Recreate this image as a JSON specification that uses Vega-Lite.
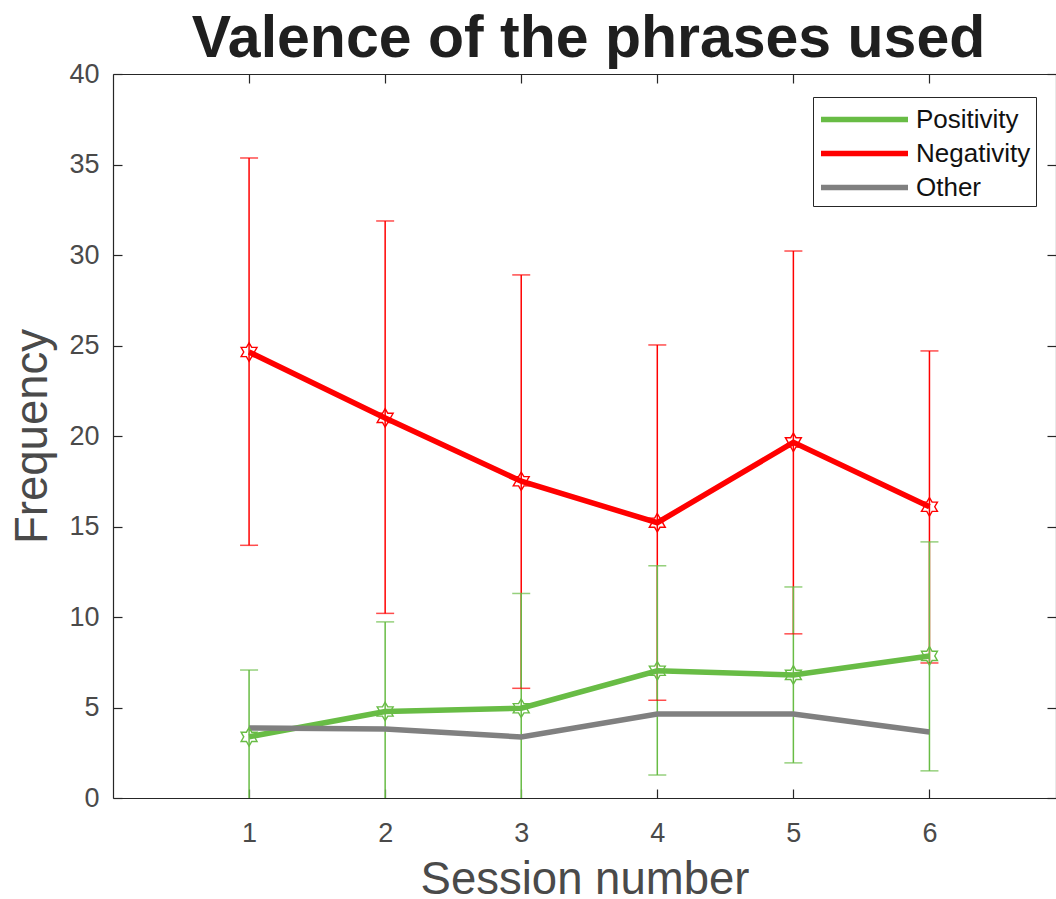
{
  "$schema": "https://vega.github.io/schema/vega-lite/v6.json",
  "autosize": {"type": "none"},
  "padding": {"left": 113, "top": 74, "right": 0, "bottom": 101},
  "width": 943,
  "height": 724,
  "background": "white",
  "title": {
    "text": "Valence of the phrases used",
    "font": "Liberation Sans",
    "fontSize": 59,
    "fontWeight": "bold",
    "color": "#1f1f1f",
    "anchor": "middle",
    "frame": "group",
    "offset": 17,
    "dx": 4,
    "dy": 26
  },
  "datasets": {
    "means": [
      {"session": 1, "series": "Positivity", "value": 3.38},
      {"session": 2, "series": "Positivity", "value": 4.78},
      {"session": 3, "series": "Positivity", "value": 4.96},
      {"session": 4, "series": "Positivity", "value": 7.03},
      {"session": 5, "series": "Positivity", "value": 6.8},
      {"session": 6, "series": "Positivity", "value": 7.85},
      {"session": 1, "series": "Negativity", "value": 24.64},
      {"session": 2, "series": "Negativity", "value": 21.0},
      {"session": 3, "series": "Negativity", "value": 17.5},
      {"session": 4, "series": "Negativity", "value": 15.21},
      {"session": 5, "series": "Negativity", "value": 19.65},
      {"session": 6, "series": "Negativity", "value": 16.09},
      {"session": 1, "series": "Other", "value": 3.87},
      {"session": 2, "series": "Other", "value": 3.81},
      {"session": 3, "series": "Other", "value": 3.37},
      {"session": 4, "series": "Other", "value": 4.64},
      {"session": 5, "series": "Other", "value": 4.64},
      {"session": 6, "series": "Other", "value": 3.65}
    ],
    "errs": [
      {"session": 1, "series": "Negativity", "lo": 13.96, "hi": 35.36},
      {"session": 2, "series": "Negativity", "lo": 10.2, "hi": 31.88},
      {"session": 3, "series": "Negativity", "lo": 6.06, "hi": 28.9},
      {"session": 4, "series": "Negativity", "lo": 5.4, "hi": 25.03},
      {"session": 5, "series": "Negativity", "lo": 9.07, "hi": 30.22},
      {"session": 6, "series": "Negativity", "lo": 7.46, "hi": 24.7},
      {"session": 1, "series": "Positivity", "lo": -0.31, "hi": 7.07},
      {"session": 2, "series": "Positivity", "lo": -0.17, "hi": 9.73},
      {"session": 3, "series": "Positivity", "lo": -1.38, "hi": 11.3},
      {"session": 4, "series": "Positivity", "lo": 1.27, "hi": 12.83},
      {"session": 5, "series": "Positivity", "lo": 1.94, "hi": 11.66},
      {"session": 6, "series": "Positivity", "lo": 1.5, "hi": 14.15}
    ]
  },
  "config": {
    "view": {"stroke": null},
    "font": "Liberation Sans",
    "axis": {
      "domainColor": "#262626",
      "tickColor": "#262626",
      "domainWidth": 1.2,
      "tickWidth": 1.2,
      "grid": false,
      "labelFont": "Liberation Sans",
      "titleFont": "Liberation Sans",
      "labelColor": "#4a4a4a",
      "titleColor": "#4a4a4a",
      "labelFontSize": 27,
      "titleFontSize": 45.5,
      "titleFontWeight": "normal"
    },
    "legend": {
      "orient": "none",
      "legendX": 700,
      "legendY": 23,
      "fillColor": "white",
      "strokeColor": "#262626",
      "strokeWidth": 1,
      "padding": 5,
      "cornerRadius": 0,
      "title": null,
      "labelFont": "Liberation Sans",
      "labelFontSize": 26,
      "labelColor": "#111111",
      "labelOffset": 63,
      "rowPadding": 3,
      "symbolType": "M-1,0L5,0",
      "symbolSize": 841,
      "symbolStrokeWidth": 5,
      "symbolOpacity": 1
    }
  },
  "resolve": {"axis": {"x": "independent", "y": "independent"}},
  "layer": [
    {
      "data": {"name": "errs"},
      "mark": {"type": "rule", "strokeWidth": 1.5, "clip": true},
      "encoding": {
        "x": {"field": "session", "type": "quantitative", "scale": {"domain": [0, 6.93], "nice": false, "zero": false}, "axis": null},
        "y": {"field": "lo", "type": "quantitative", "scale": {"domain": [0, 40], "nice": false}, "axis": null},
        "y2": {"field": "hi"},
        "color": {"field": "series", "type": "nominal", "scale": {"domain": ["Positivity", "Negativity", "Other"], "range": ["#68bc45", "#ff0000", "#808080"]}}
      }
    },
    {
      "data": {"name": "errs"},
      "mark": {"type": "tick", "orient": "horizontal", "size": 18, "thickness": 1.5, "clip": true},
      "encoding": {
        "x": {"field": "session", "type": "quantitative", "axis": null},
        "y": {"field": "hi", "type": "quantitative", "axis": null},
        "color": {"field": "series", "type": "nominal"}
      }
    },
    {
      "data": {"name": "errs"},
      "mark": {"type": "tick", "orient": "horizontal", "size": 18, "thickness": 1.5, "clip": true},
      "encoding": {
        "x": {"field": "session", "type": "quantitative", "axis": null},
        "y": {"field": "lo", "type": "quantitative", "axis": null},
        "color": {"field": "series", "type": "nominal"}
      }
    },
    {
      "data": {"name": "means"},
      "mark": {"type": "line", "strokeJoin": "miter"},
      "encoding": {
        "x": {
          "field": "session", "type": "quantitative",
          "axis": {"orient": "bottom", "values": [1, 2, 3, 4, 5, 6], "title": "Session number", "tickSize": -9, "labelPadding": 31, "titleBaseline": "alphabetic", "titleY": 95}
        },
        "y": {
          "field": "value", "type": "quantitative",
          "axis": {"orient": "left", "values": [0, 5, 10, 15, 20, 25, 30, 35, 40], "title": "Frequency", "tickSize": -9, "labelPadding": 23, "titleAngle": 270, "titleBaseline": "alphabetic", "titleAlign": "center", "titleX": -67, "titleY": 362}
        },
        "color": {"field": "series", "type": "nominal"},
        "strokeWidth": {"field": "series", "type": "nominal", "scale": {"domain": ["Positivity", "Negativity", "Other"], "range": [5.5, 5.5, 4]}}
      }
    },
    {
      "data": {"name": "means"},
      "transform": [{"filter": "datum.series !== 'Other'"}],
      "mark": {"type": "point", "filled": false, "strokeWidth": 1.4, "size": 340, "opacity": 1,
        "shape": "M0,-1L0.289,-0.5L0.866,-0.5L0.577,0L0.866,0.5L0.289,0.5L0,1L-0.289,0.5L-0.866,0.5L-0.577,0L-0.866,-0.5L-0.289,-0.5Z"},
      "encoding": {
        "x": {"field": "session", "type": "quantitative", "axis": null},
        "y": {"field": "value", "type": "quantitative", "axis": null},
        "color": {"field": "series", "type": "nominal"}
      }
    },
    {
      "data": {"name": "means"},
      "mark": {"type": "point", "opacity": 0},
      "encoding": {
        "x": {"field": "session", "type": "quantitative", "axis": {"orient": "top", "values": [1, 2, 3, 4, 5, 6], "labels": false, "title": null, "tickSize": -9}},
        "y": {"field": "value", "type": "quantitative", "axis": {"orient": "right", "values": [0, 5, 10, 15, 20, 25, 30, 35, 40], "labels": false, "title": null, "tickSize": -9}}
      }
    }
  ]
}
